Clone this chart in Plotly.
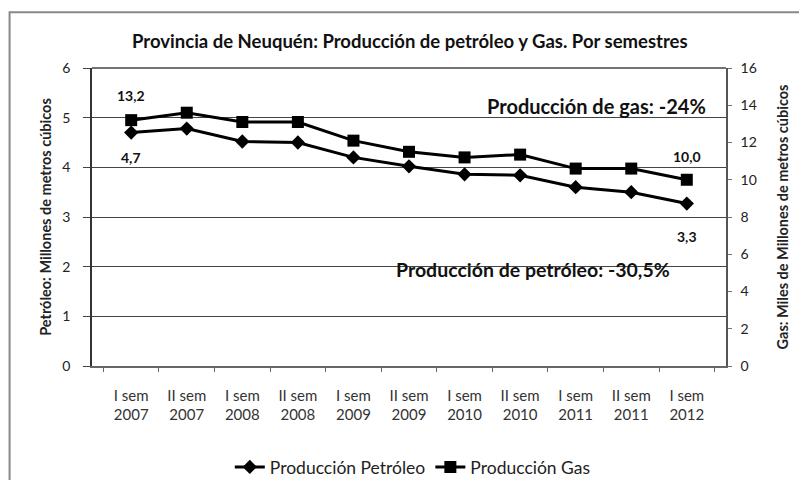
import plotly.graph_objects as go

categorias = ["I sem<br>2007", "II sem<br>2007", "I sem<br>2008", "II sem<br>2008", "I sem<br>2009",
              "II sem<br>2009", "I sem<br>2010", "II sem<br>2010", "I sem<br>2011", "II sem<br>2011",
              "I sem<br>2012"]
petroleo = [4.7, 4.78, 4.52, 4.5, 4.2, 4.02, 3.86, 3.84, 3.6, 3.5, 3.27]
gas = [13.2, 13.6, 13.1, 13.1, 12.1, 11.5, 11.2, 11.35, 10.6, 10.6, 10.0]

FONT = "Lato"
fig = go.Figure()
fig.add_trace(go.Scatter(x=categorias, y=petroleo, name="Producción Petróleo", mode="lines+markers",
                         line=dict(color="black", width=3),
                         marker=dict(symbol="diamond", size=11, color="black"), yaxis="y"))
fig.add_trace(go.Scatter(x=categorias, y=gas, name="Producción Gas", mode="lines+markers",
                         line=dict(color="black", width=3),
                         marker=dict(symbol="square", size=12, color="black"), yaxis="y2"))

fig.update_layout(
    width=791, height=472,
    margin=dict(l=84, r=73, t=60, b=114, autoexpand=False),
    paper_bgcolor="white", plot_bgcolor="white",
    font=dict(family=FONT, size=13, color="#222"),
    title=dict(text="<b>Provincia de Neuquén: Producción de petróleo y Gas. Por semestres</b>",
               x=0.508, xanchor="center", yref="container", y=0.928, yanchor="middle",
               font=dict(family=FONT, size=18.5, color="#111")),
    xaxis=dict(type="category", showgrid=False, showline=True, linecolor="#666", linewidth=1.5,
               ticks="outside", ticklen=4, tickcolor="#666", tickson="boundaries",
               tickfont=dict(size=15, color="#333"), ticklabelstandoff=15, automargin=False),
    yaxis=dict(range=[0, 6], dtick=1, showgrid=True, gridcolor="#444", gridwidth=1,
               showline=True, linecolor="#333", linewidth=1.5, ticks="outside", ticklen=7,
               tickcolor="#444", zeroline=False, tickfont=dict(size=14, color="#222"),
               ticklabelstandoff=10, automargin=False,
               title=dict(text="<b>Petróleo: Millones de metros cúbicos</b>", standoff=7,
                          font=dict(size=14.5, color="#222"))),
    yaxis2=dict(range=[0, 16], dtick=2, overlaying="y", side="right", showgrid=False,
                showline=True, linecolor="#555", linewidth=1.5, ticks="outside", ticklen=4,
                tickcolor="#777", zeroline=False, tickfont=dict(size=14, color="#222"),
                ticklabelstandoff=6, automargin=False,
                title=dict(text="<b>Gas: Miles de Millones de metros cúbicos</b>", standoff=22,
                           font=dict(size=14.5, color="#222"))),
    legend=dict(orientation="h", x=0.506, xanchor="center", yref="container", y=0.0275,
                yanchor="middle", font=dict(size=17.5, color="#222")),
    showlegend=True,
)

# top border of plot area
fig.add_shape(type="line", xref="paper", yref="paper", x0=0, x1=1, y0=1, y1=1,
              line=dict(color="#444", width=1.5))
# outer chart frame (top and left edges visible)
fig.add_shape(type="rect", xref="paper", yref="paper", x0=-0.13, x1=1.25, y0=-0.6, y1=1.187,
              line=dict(color="#888", width=2))

ann = dict(showarrow=False, font=dict(family=FONT, size=14, color="#111"))
fig.add_annotation(x=categorias[0], y=gas[0], yref="y2", text="<b>13,2</b>", yshift=25, **ann)
fig.add_annotation(x=categorias[0], y=petroleo[0], yref="y", text="<b>4,7</b>", yshift=-25, **ann)
fig.add_annotation(x=categorias[-1], y=gas[-1], yref="y2", text="<b>10,0</b>", yshift=23, **ann)
fig.add_annotation(x=categorias[-1], y=petroleo[-1], yref="y", text="<b>3,3</b>", yshift=-33, **ann)
fig.add_annotation(xref="paper", yref="paper", x=0.795, xanchor="center", y=0.92,
                   text="<b>Producción de gas: -24%</b>",
                   showarrow=False, font=dict(family=FONT, size=20, color="#111"))
fig.add_annotation(xref="paper", yref="paper", x=0.696, xanchor="center", y=0.277,
                   text="<b>Producción de petróleo: -30,5%</b>",
                   showarrow=False, font=dict(family=FONT, size=19.5, color="#111"))

fig.write_html("out.html")
